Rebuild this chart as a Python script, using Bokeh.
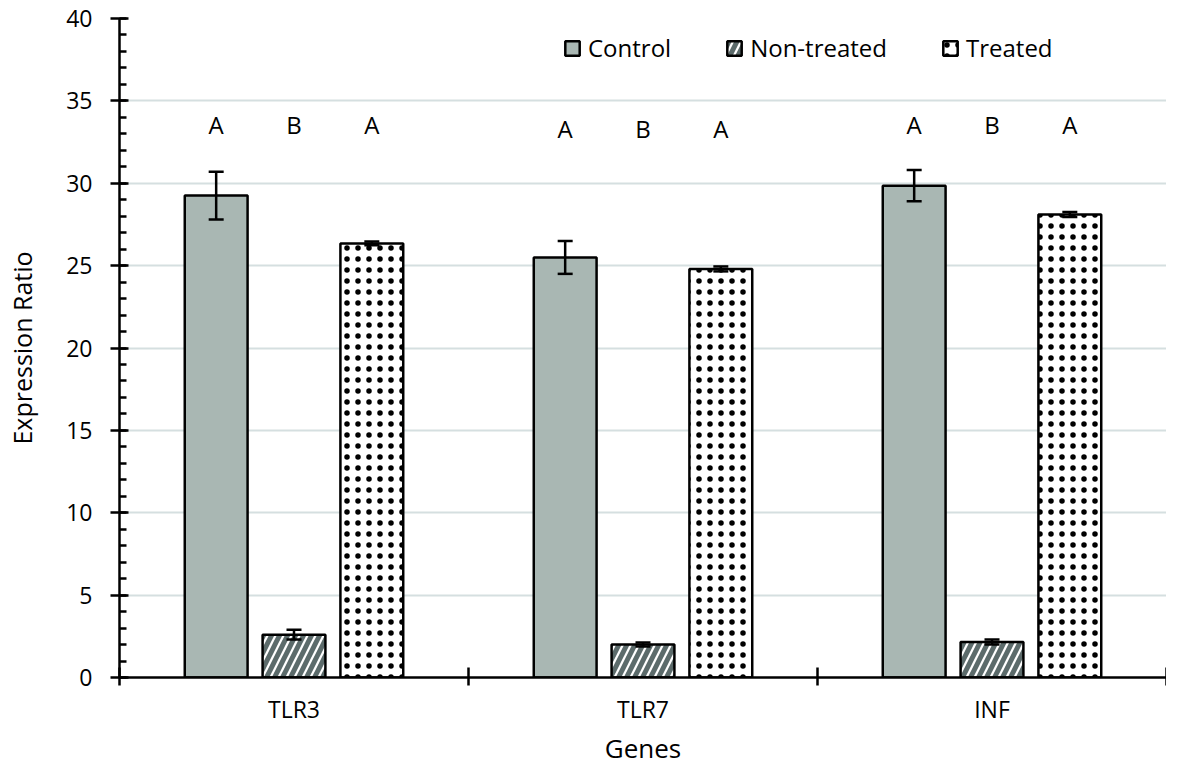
from bokeh.plotting import figure
from bokeh.models import (ColumnDataSource, Range1d, FixedTicker, Whisker, TeeHead,
                          Legend, LegendItem)
from bokeh.transform import dodge
from bokeh.core.properties import value
from bokeh.embed import file_html
from bokeh.resources import INLINE

genes = ["TLR3", "TLR7", "INF"]
control = [29.25, 25.5, 29.85]
control_err = [1.45, 1.0, 0.95]
nontreated = [2.6, 2.0, 2.15]
nontreated_err = [0.3, 0.12, 0.15]
treated = [26.35, 24.8, 28.1]
treated_err = [0.12, 0.15, 0.15]
letters_control = ["A", "A", "A"]
letters_nontreated = ["B", "B", "B"]
letters_treated = ["A", "A", "A"]
letter_y = [33.55, 33.35, 33.55]
y_ticks = [0, 5, 10, 15, 20, 25, 30, 35, 40]

FONT = "Open Sans"
pos = [i + 0.5 for i in range(len(genes))]

src = ColumnDataSource(dict(
    x=pos,
    control=control, c_lo=[v - e for v, e in zip(control, control_err)],
    c_hi=[v + e for v, e in zip(control, control_err)],
    nontreated=nontreated, n_lo=[v - e for v, e in zip(nontreated, nontreated_err)],
    n_hi=[v + e for v, e in zip(nontreated, nontreated_err)],
    treated=treated, t_lo=[v - e for v, e in zip(treated, treated_err)],
    t_hi=[v + e for v, e in zip(treated, treated_err)],
    lc=letters_control, ln=letters_nontreated, lt=letters_treated, ly=letter_y,
))

p = figure(width=1166, height=768, output_backend="svg", toolbar_location=None,
           x_range=Range1d(0, 3), y_range=Range1d(0, 40),
           min_border_left=119, min_border_right=0, min_border_top=18,
           min_border_bottom=80)
p.outline_line_color = None
p.background_fill_color = "white"

OFF = 0.223
W = 0.18
bc = p.vbar(x=dodge("x", -OFF), top="control", width=W, source=src,
            fill_color="#a9b7b3", line_color="black", line_width=2.5)
bn = p.vbar(x=dodge("x", 0), top="nontreated", width=W, source=src,
            fill_color="white", line_color="black", line_width=2.5,
            hatch_pattern="right_diagonal_line", hatch_color="#5c6b6b",
            hatch_weight=5, hatch_scale=16)
bt = p.vbar(x=dodge("x", OFF), top="treated", width=W, source=src,
            fill_color="white", line_color="black", line_width=2.5,
            hatch_pattern="dot", hatch_color="black",
            hatch_weight=5, hatch_scale=11)

for off, lo, hi in [(-OFF, "c_lo", "c_hi"), (0, "n_lo", "n_hi"), (OFF, "t_lo", "t_hi")]:
    w = Whisker(base=dodge("x", off), lower=lo, upper=hi, source=src, level="overlay",
                line_color="black", line_width=2.5,
                upper_head=TeeHead(size=15, line_width=2.5, line_color="black"),
                lower_head=TeeHead(size=15, line_width=2.5, line_color="black"))
    p.add_layout(w)

for off, col in [(-OFF, "lc"), (0, "ln"), (OFF, "lt")]:
    p.text(x=dodge("x", off), y="ly", text=col, source=src,
           text_font=value(FONT), text_font_size="24px", text_align="center",
           text_baseline="middle", text_color="black")

# grid
p.xgrid.visible = False
p.ygrid.ticker = FixedTicker(ticks=y_ticks)
p.ygrid.grid_line_color = "#d5dfe0"
p.ygrid.grid_line_width = 2

# y axis
ya = p.yaxis[0]
ya.ticker = FixedTicker(ticks=y_ticks, minor_ticks=list(range(0, 41)))
ya.axis_label = "Expression Ratio"
ya.axis_label_text_font = FONT
ya.axis_label_text_font_style = "normal"
ya.axis_label_text_font_size = "25px"
ya.axis_label_text_color = "black"
ya.axis_label_standoff = 24
ya.major_label_text_font = FONT
ya.major_label_text_font_size = "23px"
ya.major_label_text_color = "black"
ya.major_label_standoff = 18
ya.axis_line_width = 2.5
ya.major_tick_line_width = 2.5
ya.minor_tick_line_width = 2.5
ya.major_tick_in = 9
ya.major_tick_out = 9
ya.minor_tick_in = 7
ya.minor_tick_out = 0

# x axis
xa = p.xaxis[0]
xa.ticker = FixedTicker(ticks=pos, minor_ticks=[0, 1, 2, 3])
xa.major_label_overrides = {pp: g for pp, g in zip(pos, genes)}
xa.axis_label = "Genes"
xa.axis_label_text_font = FONT
xa.axis_label_text_font_style = "normal"
xa.axis_label_text_font_size = "26px"
xa.axis_label_text_color = "black"
xa.axis_label_standoff = 2
xa.major_label_text_font = FONT
xa.major_label_text_font_size = "23px"
xa.major_label_text_color = "black"
xa.major_label_standoff = 7
xa.axis_line_width = 2.5
xa.major_tick_in = 0
xa.major_tick_out = 0
xa.major_tick_line_color = None
xa.minor_tick_line_width = 2.5
xa.minor_tick_in = 10
xa.minor_tick_out = 8

legend = Legend(items=[LegendItem(label="Control", renderers=[bc]),
                       LegendItem(label="Non-treated", renderers=[bn]),
                       LegendItem(label="Treated", renderers=[bt])],
                orientation="horizontal", location=(444, 613),
                glyph_width=18, glyph_height=18, label_standoff=7, spacing=54,
                padding=5, margin=0, border_line_color=None,
                background_fill_alpha=0,
                label_text_font=FONT, label_text_font_size="24px",
                label_text_color="black")
p.add_layout(legend)

open("out.html", "w").write(file_html(p, INLINE))
